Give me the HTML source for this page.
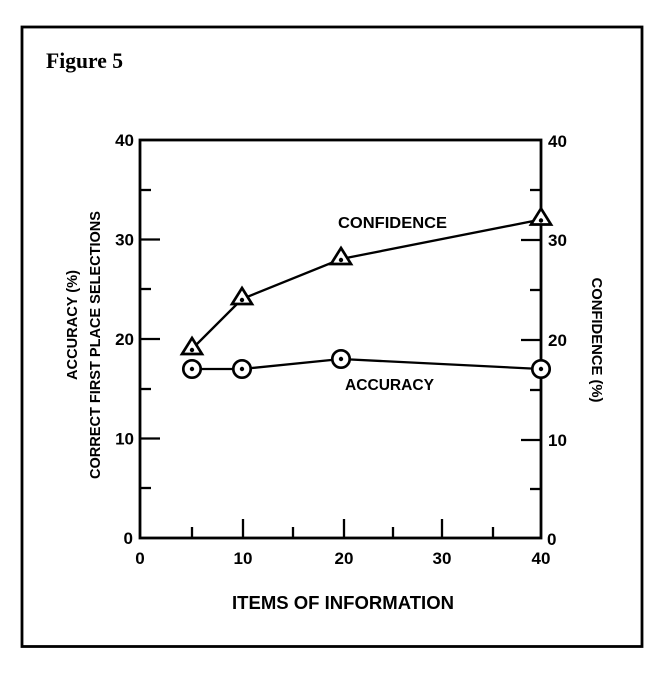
<!DOCTYPE html>
<html>
<head>
<meta charset="utf-8">
<style>
  html, body { margin:0; padding:0; background:#fff; }
  svg { display:block; }
  text { font-family:"Liberation Sans", Arial, sans-serif; font-weight:bold; fill:#000; }
  .fig { font-family:"Liberation Serif", "Times New Roman", serif; }
</style>
</head>
<body>
<svg width="663" height="675" viewBox="0 0 663 675" xmlns="http://www.w3.org/2000/svg">
  <rect x="0" y="0" width="663" height="675" fill="#fff"/>
  <!-- outer border -->
  <rect x="22" y="27" width="620" height="619.5" fill="none" stroke="#000" stroke-width="2.8"/>

  <text class="fig" x="46" y="68" font-size="22" textLength="77" lengthAdjust="spacingAndGlyphs">Figure 5</text>

  <!-- plot frame -->
  <rect x="140" y="140" width="401" height="398" fill="none" stroke="#000" stroke-width="2.8"/>

  <g stroke="#000" stroke-width="2.3" fill="none">
    <!-- left ticks (inward) -->
    <line x1="140" y1="190" x2="151" y2="190"/>
    <line x1="140" y1="239.5" x2="160" y2="239.5"/>
    <line x1="140" y1="289" x2="151" y2="289"/>
    <line x1="140" y1="339" x2="160" y2="339"/>
    <line x1="140" y1="389" x2="151" y2="389"/>
    <line x1="140" y1="438.5" x2="160" y2="438.5"/>
    <line x1="140" y1="488" x2="151" y2="488"/>
    <!-- right ticks (inward) -->
    <line x1="541" y1="190" x2="530" y2="190"/>
    <line x1="541" y1="240" x2="521" y2="240"/>
    <line x1="541" y1="290" x2="530" y2="290"/>
    <line x1="541" y1="340" x2="521" y2="340"/>
    <line x1="541" y1="390" x2="530" y2="390"/>
    <line x1="541" y1="440" x2="521" y2="440"/>
    <line x1="541" y1="489" x2="530" y2="489"/>
    <!-- bottom ticks (upward) -->
    <line x1="192" y1="538" x2="192" y2="527"/>
    <line x1="243" y1="538" x2="243" y2="519"/>
    <line x1="293" y1="538" x2="293" y2="527"/>
    <line x1="344" y1="538" x2="344" y2="519"/>
    <line x1="393" y1="538" x2="393" y2="527"/>
    <line x1="442" y1="538" x2="442" y2="519"/>
    <line x1="493" y1="538" x2="493" y2="527"/>
  </g>

  <!-- left tick labels -->
  <g font-size="17" text-anchor="end">
    <text x="134" y="146">40</text>
    <text x="134" y="245.5">30</text>
    <text x="134" y="345">20</text>
    <text x="134" y="444.5">10</text>
    <text x="133" y="544">0</text>
  </g>
  <!-- right tick labels -->
  <g font-size="17" text-anchor="start">
    <text x="548" y="147">40</text>
    <text x="548" y="246">30</text>
    <text x="548" y="346">20</text>
    <text x="548" y="446">10</text>
    <text x="547" y="545">0</text>
  </g>
  <!-- bottom tick labels -->
  <g font-size="17" text-anchor="middle">
    <text x="140" y="564">0</text>
    <text x="243" y="564">10</text>
    <text x="344" y="564">20</text>
    <text x="442" y="564">30</text>
    <text x="541" y="564">40</text>
  </g>

  <!-- axis titles -->
  <text x="343" y="609" font-size="18" text-anchor="middle" textLength="222" lengthAdjust="spacingAndGlyphs">ITEMS OF INFORMATION</text>
  <text transform="translate(77,325) rotate(-90)" font-size="14.5" text-anchor="middle" textLength="110" lengthAdjust="spacingAndGlyphs">ACCURACY (%)</text>
  <text transform="translate(100,345) rotate(-90)" font-size="14.5" text-anchor="middle" textLength="268" lengthAdjust="spacingAndGlyphs">CORRECT FIRST PLACE SELECTIONS</text>
  <text transform="translate(592,340) rotate(90)" font-size="14.5" text-anchor="middle" textLength="125" lengthAdjust="spacingAndGlyphs">CONFIDENCE (%)</text>

  <!-- series lines -->
  <polyline points="192,349 242,299 341,259 541,219.5" fill="none" stroke="#000" stroke-width="2.3"/>
  <polyline points="192,369 242,369 341,359 541,369" fill="none" stroke="#000" stroke-width="2.3"/>

  <!-- triangle markers -->
  <g fill="#fff" stroke="#000" stroke-width="2.7" stroke-linejoin="miter">
    <polygon points="192,338 202,354 182,354"/>
    <polygon points="242,288 252,304 232,304"/>
    <polygon points="341,248 351,264 331,264"/>
    <polygon points="541,208.5 551,224.5 531,224.5"/>
  </g>
  <!-- circle markers -->
  <g fill="#fff" stroke="#000" stroke-width="2.7">
    <circle cx="192" cy="369" r="8.7"/>
    <circle cx="242" cy="369" r="8.7"/>
    <circle cx="341" cy="359" r="8.7"/>
    <circle cx="541" cy="369" r="8.7"/>
  </g>
  <!-- dots -->
  <g fill="#000">
    <circle cx="192" cy="350" r="2.2"/>
    <circle cx="242" cy="300" r="2.2"/>
    <circle cx="341" cy="260" r="2.2"/>
    <circle cx="541" cy="220.5" r="2.2"/>
    <circle cx="192" cy="369" r="2.2"/>
    <circle cx="242" cy="369" r="2.2"/>
    <circle cx="341" cy="359" r="2.2"/>
    <circle cx="541" cy="369" r="2.2"/>
  </g>

  <!-- series labels -->
  <text x="338" y="228" font-size="16" textLength="109" lengthAdjust="spacingAndGlyphs">CONFIDENCE</text>
  <text x="345" y="390" font-size="16" textLength="89" lengthAdjust="spacingAndGlyphs">ACCURACY</text>
</svg>
</body>
</html>
